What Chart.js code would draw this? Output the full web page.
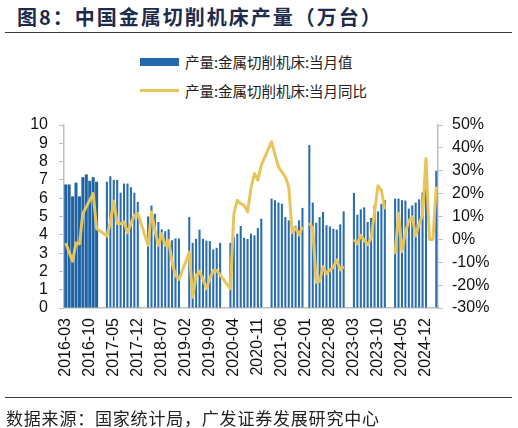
<!DOCTYPE html>
<html><head><meta charset="utf-8">
<script src="https://cdn.jsdelivr.net/npm/chart.js@4.4.1/dist/chart.umd.min.js"></script>
<style>
html,body{margin:0;padding:0;background:#fff;}
#wrap{position:relative;width:518px;height:428px;overflow:hidden;font-family:"Noto Sans CJK SC","Noto Sans",sans-serif;}
#c{position:absolute;left:0;top:0;}
.title{position:absolute;left:17px;top:4px;font-size:20px;line-height:26px;font-weight:bold;letter-spacing:2px;color:#1e2b4b;white-space:nowrap;}
.hr{position:absolute;left:5px;width:507px;height:1px;background:#3a3a3a;}
.legtxt{position:absolute;left:185px;font-size:14.5px;line-height:18px;color:#222;white-space:nowrap;}
.sw{position:absolute;left:140px;width:39px;}
.src{position:absolute;left:6px;top:406px;font-size:17px;line-height:24px;letter-spacing:0.8px;color:#222;white-space:nowrap;}
</style></head>
<body>
<div id="wrap">
  <div class="title">图8：中国金属切削机床产量（万台）</div>
  <div class="hr" style="top:32px"></div>
  <div class="sw" style="top:58px;height:8px;background:#2468a9"></div>
  <div class="legtxt" style="top:53px">产量:金属切削机床:当月值</div>
  <div class="sw" style="top:89px;height:3px;background:#e8c55c"></div>
  <div class="legtxt" style="top:82px">产量:金属切削机床:当月同比</div>
  <canvas id="c" width="518" height="428"></canvas>
  <div class="hr" style="top:397px"></div>
  <div class="src">数据来源：国家统计局，广发证券发展研究中心</div>
</div>
<script>
const months = [
 '2016-03','2016-04','2016-05','2016-06','2016-07','2016-08','2016-09','2016-10','2016-11','2016-12',
 '2017-01','2017-02','2017-03','2017-04','2017-05','2017-06','2017-07','2017-08','2017-09','2017-10','2017-11','2017-12',
 '2018-01','2018-02','2018-03','2018-04','2018-05','2018-06','2018-07','2018-08','2018-09','2018-10','2018-11','2018-12',
 '2019-01','2019-02','2019-03','2019-04','2019-05','2019-06','2019-07','2019-08','2019-09','2019-10','2019-11','2019-12',
 '2020-01','2020-02','2020-03','2020-04','2020-05','2020-06','2020-07','2020-08','2020-09','2020-10','2020-11','2020-12',
 '2021-01','2021-02','2021-03','2021-04','2021-05','2021-06','2021-07','2021-08','2021-09','2021-10','2021-11','2021-12',
 '2022-01','2022-02','2022-03','2022-04','2022-05','2022-06','2022-07','2022-08','2022-09','2022-10','2022-11','2022-12',
 '2023-01','2023-02','2023-03','2023-04','2023-05','2023-06','2023-07','2023-08','2023-09','2023-10','2023-11','2023-12',
 '2024-01','2024-02','2024-03','2024-04','2024-05','2024-06','2024-07','2024-08','2024-09','2024-10','2024-11','2024-12',
 '2025-01','2025-02','2025-03'
];
// 产量:金属切削机床:当月值 (万台)
const output = [
 6.75,6.75,6.1,6.85,6.1,7.15,7.3,6.95,7.15,6.9,
 null,null,6.9,7.2,7.0,7.0,6.3,6.8,6.8,6.6,6.3,5.8,
 null,null,5.0,5.6,5.15,4.7,4.3,4.2,4.3,3.7,3.8,3.8,
 null,null,4.97,3.56,3.78,4.28,3.78,3.68,3.66,3.2,3.29,3.56,
 null,null,3.56,3.88,4.06,4.48,3.84,3.77,4.06,3.97,4.37,4.88,
 null,null,5.98,5.89,5.76,5.7,4.97,4.79,4.5,4.5,4.79,5.47,
 null,8.9,5.76,4.66,4.97,5.25,4.52,4.46,4.33,4.28,4.57,5.28,
 null,null,6.29,5.1,5.39,5.5,4.7,4.92,5.61,5.28,5.69,5.89,
 null,null,5.98,5.98,5.89,5.87,5.43,5.61,5.76,5.94,6.31,6.8,
 null,null,7.5
];
// 产量:金属切削机床:当月同比 (%)
const yoy = [
 -1.6,-5.6,-9.5,-1.6,-2,11.3,14.2,17.1,20,4.7,
 null,null,1.5,7.3,16.7,6.9,6.9,7.6,2.9,6.9,10.5,11.3,
 null,null,-2.6,12,4,-2.6,2.5,-2.6,-0.4,-10,-15.8,-17.5,
 null,null,-5.6,-25.3,-15.8,-14,-17.3,-21.6,-17.3,-13.6,-13.6,-15.5,
 null,null,-21.6,11.3,17.1,15.6,14.9,12,22.5,28.8,25.9,32.5,
 null,null,42.7,37,31.7,29.5,27.3,23,3,5,2,5.5,
 null,7.3,4.7,-18.7,-18.3,-12,-15,-13.5,-12.1,-9,-13.3,-11.8,
 null,null,0,-1.9,1.8,-0.4,-2.3,0.6,12,23.4,21.5,13.2,
 null,null,-6.3,11.3,-5.3,3.2,8,9.8,1.5,6.9,10.5,35.4,
 0,0,23
];
const leftTicks = [0,1,2,3,4,5,6,7,8,9,10];
const rightTicks = [-30,-20,-10,0,10,20,30,40,50];
const labelEvery = 7;
const solidCount = 10;   // 2016 bars drawn as a solid block
const spanUntil = 69;    // line spans Jan/Feb gaps up to 2021-12

const barsSolid = output.map((v,i)=> i<solidCount ? v : null);
const barsThin  = output.map((v,i)=> i>=solidCount ? v : null);
const yoyEarly  = yoy.map((v,i)=> i<=spanUntil ? v : null);
const yoyLate   = yoy.map((v,i)=> i>spanUntil ? v : null);

const tickFont = {family:'"Liberation Sans", Arial, sans-serif', size:16};
const axisColor = '#bfbfbf';
const lineColor = '#e8c55c';

new Chart(document.getElementById('c'), {
  type:'bar',
  data:{
    labels: months,
    datasets:[
      {type:'line', label:'产量:金属切削机床:当月同比', data:yoyEarly, yAxisID:'y1', borderColor:lineColor, borderWidth:3, pointRadius:0, spanGaps:true, tension:0, order:0, borderJoinStyle:'round'},
      {type:'line', label:'产量:金属切削机床:当月同比 ', data:yoyLate, yAxisID:'y1', borderColor:lineColor, borderWidth:3, pointRadius:0, spanGaps:false, tension:0, order:0, borderJoinStyle:'round'},
      {type:'bar', label:'产量:金属切削机床:当月值', data:barsSolid, yAxisID:'y', backgroundColor:'#1f63a5', barPercentage:0.88, categoryPercentage:1, grouped:false, order:1},
      {type:'bar', label:'产量:金属切削机床:当月值 ', data:barsThin, yAxisID:'y', backgroundColor:'#2a6dad', barPercentage:0.6, categoryPercentage:1, grouped:false, order:1}
    ]
  },
  options:{
    responsive:false, animation:false, devicePixelRatio:1,
    layout:{padding:{top:125,left:0,right:0,bottom:0}},
    plugins:{legend:{display:false}, tooltip:{enabled:false}},
    scales:{
      x:{
        offset:true,
        grid:{display:false, drawTicks:false},
        border:{display:true, color:axisColor, width:1.5},
        ticks:{autoSkip:false, maxRotation:90, minRotation:90, padding:10, font:tickFont, color:'#111',
          callback:(v,i)=> i%labelEvery===0 ? months[i] : ''},
        afterFit:s=>{s.height = 428-308;}
      },
      y:{
        position:'left', min:0, max:10,
        afterBuildTicks:s=>{s.ticks = leftTicks.map(v=>({value:v}));},
        ticks:{autoSkip:false, padding:11, font:tickFont, color:'#111'},
        grid:{drawOnChartArea:false, drawTicks:true, tickLength:5, color:axisColor},
        border:{display:true, color:axisColor, width:1.5},
        afterFit:s=>{s.width = 64;}
      },
      y1:{
        position:'right', min:-30, max:50,
        afterBuildTicks:s=>{s.ticks = rightTicks.map(v=>({value:v}));},
        ticks:{autoSkip:false, padding:9, font:tickFont, color:'#111', callback:v=>v+'%'},
        grid:{drawOnChartArea:false, drawTicks:true, tickLength:5, color:axisColor},
        border:{display:true, color:axisColor, width:1.5},
        afterFit:s=>{s.width = 80;}
      }
    }
  }
});
</script>
</body></html>
